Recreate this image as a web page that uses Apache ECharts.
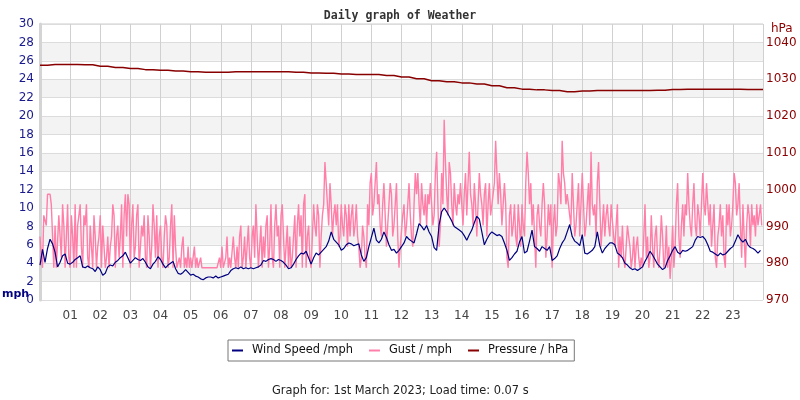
<!DOCTYPE html>
<html>
<head>
<meta charset="utf-8">
<script src="https://cdn.jsdelivr.net/npm/echarts@6/dist/echarts.min.js"></script>
<style>html,body{margin:0;padding:0;background:#fff}#c{width:800px;height:400px}</style>
</head>
<body>
<div id="c"></div>
<script>
// Hour tick labels
const hourLabels = ['01','02','03','04','05','06','07','08','09','10','11','12','13','14','15','16','17','18','19','20','21','22','23'];
// Wind speed, samples every 5 minutes (12 per hour), mph
const windSpeed = [
 3.8,5.5,4.1,5.6,6.6,6.1,5.2,3.6,4.1,4.8,5.0,4.0,
 3.9,4.1,4.4,4.6,4.8,3.6,3.5,3.7,3.5,3.4,3.1,3.6,
 3.3,2.7,2.9,3.6,3.8,3.7,4.1,4.3,4.6,4.8,5.2,4.6,
 4.0,4.3,4.6,4.4,4.3,4.5,4.1,3.6,3.4,3.9,4.2,4.7,
 4.4,3.9,3.5,3.8,4.0,4.2,3.4,2.9,2.8,3.0,3.3,3.0,
 2.7,2.8,2.6,2.5,2.3,2.2,2.4,2.5,2.5,2.4,2.6,2.4,
 2.5,2.6,2.7,2.8,3.2,3.4,3.5,3.4,3.6,3.4,3.5,3.4,
 3.5,3.4,3.5,3.6,3.8,4.3,4.2,4.4,4.5,4.4,4.2,4.4,
 4.3,4.1,3.8,3.4,3.5,3.9,4.4,4.8,5.1,5.0,5.3,4.6,
 3.9,4.6,5.1,4.9,5.2,5.5,5.8,6.4,7.4,6.6,6.3,6.0,
 5.4,5.6,6.0,6.2,6.1,5.9,6.0,6.1,4.9,4.2,4.6,5.8,
 6.8,7.8,6.5,6.2,6.6,7.4,6.8,6.0,5.4,5.5,5.1,5.4,
 5.8,6.2,6.9,6.6,6.4,6.2,7.2,8.3,8.0,7.6,8.1,7.4,
 6.9,5.7,5.4,8.2,9.6,10.0,9.6,9.1,8.6,8.0,7.8,7.6,
 7.4,7.0,6.5,7.1,7.6,8.4,9.1,8.8,7.4,6.0,6.6,7.1,
 7.4,7.2,7.0,7.1,6.9,6.2,5.4,4.3,4.6,5.0,5.3,6.3,
 6.9,5.1,5.3,6.4,7.6,5.8,5.6,5.3,5.8,5.6,5.4,5.8,
 4.3,4.5,4.8,5.6,6.2,6.6,7.4,8.2,6.9,6.4,6.2,5.9,
 7.1,5.1,5.0,5.2,5.4,5.8,7.4,5.9,5.1,5.6,5.9,6.2,
 6.2,6.0,5.1,4.9,4.6,4.0,3.8,3.5,3.3,3.4,3.2,3.4,
 3.6,4.2,4.7,5.3,4.9,4.4,3.9,3.6,3.3,3.5,4.3,4.8,
 5.4,5.8,5.2,5.0,5.4,5.3,5.4,5.6,5.8,6.5,6.9,6.8,
 6.9,6.6,6.0,5.3,5.2,5.0,4.8,5.1,4.9,5.0,5.3,5.6,
 5.8,6.4,7.1,6.6,6.3,6.6,6.0,5.7,5.6,5.4,5.1,5.4
];
// Gust, samples every 2.5 minutes (24 per hour), mph
const gust = [
 6.9,4.6,3.5,9.2,9.2,8.1,11.5,11.5,11.5,10.4,10.4,3.5,8.1,3.5,3.5,9.2,6.9,4.6,10.4,8.1,3.5,6.9,10.4,4.6,
 3.5,9.2,6.9,3.5,10.4,3.5,8.1,9.2,10.4,5.8,3.5,9.2,8.1,10.4,4.6,3.5,8.1,5.8,3.5,9.2,6.9,3.5,5.8,6.9,
 9.2,3.5,8.1,5.8,3.5,4.6,6.9,3.5,5.8,6.9,10.4,9.2,3.5,6.9,8.1,4.6,6.9,10.4,3.5,9.2,11.5,6.9,11.5,10.4,
 3.5,8.1,10.4,4.6,5.8,9.2,10.4,3.5,3.5,8.1,6.9,9.2,4.6,3.5,9.2,6.9,3.5,5.8,10.4,8.1,4.6,9.2,3.5,6.9,
 8.1,4.6,3.5,6.9,9.2,8.1,3.5,4.6,8.1,10.4,3.5,9.2,5.8,3.5,3.5,4.6,3.5,5.8,6.9,3.5,4.6,3.5,5.8,3.5,
 4.6,3.5,3.5,5.8,3.5,4.6,3.5,3.5,4.6,3.5,3.5,3.5,3.5,3.5,3.5,3.5,3.5,3.5,3.5,3.5,3.5,3.5,3.5,4.6,
 3.5,5.8,3.5,3.5,4.6,6.9,3.5,4.6,3.5,3.5,6.9,4.6,3.5,5.8,3.5,6.9,8.1,3.5,4.6,6.9,3.5,5.8,8.1,4.6,
 3.5,6.9,8.1,4.6,10.4,6.9,3.5,5.8,8.1,3.5,6.9,4.6,8.1,9.2,3.5,5.8,10.4,4.6,3.5,8.1,10.4,6.9,8.1,3.5,
 9.2,10.4,6.9,3.5,5.8,8.1,3.5,6.9,3.5,4.6,6.9,9.2,3.5,8.1,10.4,6.9,9.2,3.5,10.4,11.5,3.5,6.9,8.1,4.6,
 3.5,6.9,10.4,8.1,6.9,10.4,9.2,3.5,6.9,9.2,10.4,15.0,12.7,10.4,8.1,12.7,10.4,6.9,9.2,10.4,8.1,10.4,5.8,6.9,
 10.4,8.1,6.9,10.4,9.2,5.8,10.4,6.9,9.2,10.4,6.9,8.1,10.4,6.9,5.8,3.5,4.6,8.1,6.9,4.6,3.5,10.4,8.1,12.7,
 13.8,9.2,10.4,12.7,15.0,10.4,11.5,8.1,6.9,10.4,12.7,9.2,5.8,8.1,10.4,12.7,11.5,6.9,8.1,10.4,12.7,6.9,3.5,5.8,
 5.8,9.2,10.4,6.9,8.1,10.4,12.7,9.2,6.9,5.8,10.4,13.8,11.5,13.8,10.4,8.1,12.7,10.4,9.2,11.5,8.1,11.5,10.4,12.7,
 10.4,8.1,9.2,13.8,16.1,10.4,5.8,8.1,13.8,10.4,19.6,15.0,11.5,9.2,15.0,13.8,10.4,8.1,12.7,10.4,9.2,11.5,10.4,12.7,
 10.4,8.1,11.5,13.8,9.2,12.7,16.1,11.5,10.4,8.1,12.7,10.4,6.9,10.4,13.8,11.5,10.4,8.1,11.5,12.7,6.9,10.4,12.7,9.2,
 9.2,11.5,12.7,17.3,13.8,10.4,13.8,11.5,8.1,10.4,12.7,10.4,4.6,3.5,9.2,10.4,6.9,8.1,10.4,6.9,5.8,10.4,8.1,5.8,
 10.4,8.1,6.9,12.7,16.1,13.8,10.4,12.7,8.1,10.4,6.9,3.5,9.2,10.4,8.1,6.9,10.4,12.7,10.4,4.6,6.9,10.4,8.1,10.4,
 3.5,8.1,10.4,6.9,8.1,13.8,12.7,10.4,17.3,13.8,12.7,10.4,11.5,10.4,9.2,8.1,13.8,10.4,6.9,8.1,10.4,12.7,6.9,10.4,
 13.8,10.4,6.9,8.1,10.4,12.7,8.1,16.1,10.4,9.2,10.4,6.9,12.7,15.0,10.4,5.8,8.1,10.4,6.9,9.2,10.4,8.1,6.9,10.4,
 10.4,6.9,5.8,8.1,10.4,3.5,6.9,4.6,8.1,4.6,3.5,5.8,8.1,6.9,5.8,3.5,4.6,6.9,3.5,5.8,6.9,4.6,3.5,4.6,
 3.5,6.9,10.4,4.6,6.9,3.5,4.6,9.2,5.8,3.5,6.9,8.1,4.6,3.5,5.8,9.2,6.9,3.5,4.6,8.1,3.5,5.8,2.3,4.6,
 8.1,3.5,5.8,10.4,12.7,6.9,4.6,8.1,10.4,6.9,10.4,9.2,13.8,10.4,8.1,6.9,10.4,12.7,8.1,6.9,10.4,9.2,6.9,10.4,
 13.8,10.4,9.2,12.7,10.4,8.1,10.4,5.8,8.1,10.4,4.6,3.5,6.9,8.1,10.4,6.9,9.2,4.6,3.5,10.4,8.1,10.4,6.9,8.1,
 10.4,13.8,12.7,9.2,10.4,12.7,8.1,4.6,10.4,6.9,3.5,8.1,10.4,9.2,5.8,10.4,8.1,9.2,6.9,10.4,8.1,9.2,10.4,8.1
];
// Pressure, samples every 30 minutes, hPa
const pressure = [
 1033.8,1034.0,1034.0,1033.9,1033.5,1033.2,1032.9,1032.6,1032.4,1032.2,
 1032.0,1031.9,1031.9,1032.0,1032.0,1032.0,1032.0,1031.9,1031.7,1031.6,
 1031.4,1031.3,1031.3,1031.0,1030.6,1030.1,1029.6,1029.3,1029.0,1028.7,
 1028.2,1027.7,1027.3,1027.1,1026.9,1026.6,1026.8,1026.9,1026.9,1026.9,
 1026.9,1027.0,1027.2,1027.3,1027.3,1027.3,1027.3,1027.2,1027.2
];
const windStepH = 1/12, gustStepH = 1/24, pressStepH = 0.5;

const chart = echarts.init(document.getElementById('c'), null, {renderer:'canvas'});
const font = 'DejaVu Sans';
chart.setOption({
  animation: false,
  backgroundColor: '#fff',
  title: [
    {text: 'Daily graph of Weather', left: 'center', top: 5,
     textStyle: {fontFamily: 'DejaVu Sans Mono', fontWeight: 'bold', fontSize: 11.5, color: '#333'}},
    {text: 'Graph for: 1st March 2023; Load time: 0.07 s', left: 267, top: 381,
     textStyle: {fontFamily: font, fontWeight: 'normal', fontSize: 11.4, color: '#222'}}
  ],
  legend: {
    left: 228, top: 340, padding: [5, 6, 5, 4], itemGap: 16,
    borderColor: '#777', borderWidth: 1, borderRadius: 0,
    icon: 'rect', itemWidth: 11, itemHeight: 2,
    textStyle: {fontFamily: font, fontSize: 11.4, color: '#111', padding: [0,0,0,4]},
    data: ['Wind Speed /mph', 'Gust / mph', 'Pressure / hPa']
  },
  grid: {left: 40, right: 37, top: 24, bottom: 100, show: true, borderColor: '#ccc', borderWidth: 1},
  xAxis: {
    type: 'value', min: 0, max: 24, interval: 1,
    axisLine: {show: false}, axisTick: {show: false},
    axisLabel: {fontFamily: font, fontSize: 12, color: '#444', margin: 10,
      formatter: v => (v >= 1 && v <= 23) ? hourLabels[v-1] : ''},
    splitLine: {show: true, lineStyle: {color: '#d0d0d0'}}
  },
  yAxis: [
    {type: 'value', min: 0, max: 30, interval: 2,
     axisLine: {show: true, lineStyle: {color: '#d4d4d4', width: 3}}, axisTick: {show: false},
     axisLabel: {fontFamily: font, fontSize: 12, color: '#1a1a8c', margin: 6},
     splitLine: {show: true, lineStyle: {color: '#dcdcdc'}},
     splitArea: {show: true, areaStyle: {color: ['#ffffff', '#f3f3f3']}}},
    {type: 'value', min: 970, max: 1045, interval: 10, position: 'right',
     axisLine: {show: false}, axisTick: {show: false},
     axisLabel: {fontFamily: font, fontSize: 12, color: '#8b0000', margin: 3,
       formatter: v => v > 1040 ? '' : String(v)},
     splitLine: {show: false}}
  ],
  graphic: [
    {type: 'text', left: 2, top: 289, style: {text: 'mph', fontFamily: font, fontWeight: 'bold', fontSize: 11, fill: '#000080'}},
    {type: 'text', left: 771, top: 23, style: {text: 'hPa', fontFamily: font, fontSize: 12, fill: '#8b0000'}}
  ],
  series: [
    {name: 'Wind Speed /mph', type: 'line', showSymbol: false, z: 4,
     data: windSpeed.map((v, i) => [i * windStepH, v]),
     itemStyle: {color: '#000080'}, lineStyle: {color: '#000080', width: 1.2}},
    {name: 'Gust / mph', type: 'line', showSymbol: false, z: 3,
     data: gust.map((v, i) => [i * gustStepH, v]),
     itemStyle: {color: '#ff7fa9'}, lineStyle: {color: '#ff7fa9', width: 1.4}},
    {name: 'Pressure / hPa', type: 'line', showSymbol: false, z: 5, yAxisIndex: 1, step: 'middle',
     data: pressure.map((v, i) => [i * pressStepH, v]),
     itemStyle: {color: '#880000'}, lineStyle: {color: '#880000', width: 1.5}}
  ]
});
</script>
</body>
</html>
